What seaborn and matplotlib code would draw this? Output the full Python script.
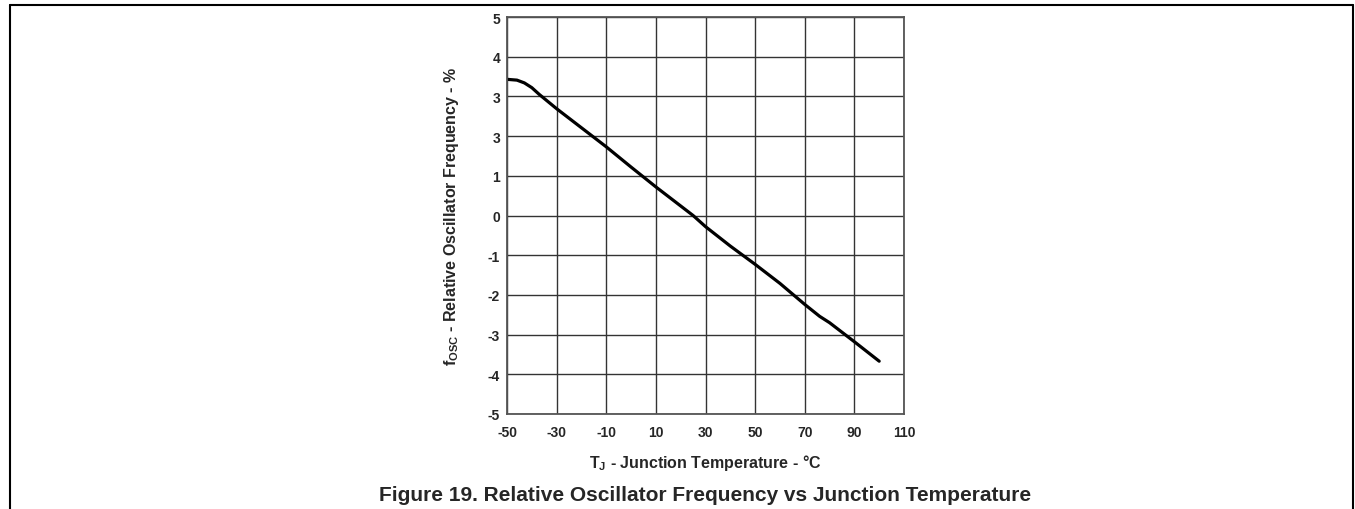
import numpy as np
import pandas as pd
import matplotlib
matplotlib.use('Agg')
import matplotlib.pyplot as plt
from matplotlib.lines import Line2D
import seaborn as sns

# datos
temperatura = [-50, -46, -43, -40, -37, -30, -20, -10, 0, 10, 20, 25, 30, 40, 50, 60, 70, 76, 80, 90, 100]
frecuencia = [3.43, 3.41, 3.34, 3.22, 3.05, 2.69, 2.21, 1.73, 1.22, 0.72, 0.24, 0.0, -0.28, -0.77, -1.23,
              -1.71, -2.24, -2.54, -2.70, -3.18, -3.67]

xticks = [-50, -30, -10, 10, 30, 50, 70, 90, 110]
yticks = [5, 4, 3, 2, 1, 0, -1, -2, -3, -4, -5]
yticklabels = ['5', '4', '3', '3', '1', '0', '-1', '-2', '-3', '-4', '-5']

sns.set_style('white')
plt.rcParams['font.family'] = ['Liberation Sans', 'DejaVu Sans']
plt.rcParams['font.weight'] = 'bold'
plt.rcParams['mathtext.fontset'] = 'custom'
plt.rcParams['mathtext.rm'] = 'Liberation Sans:bold'
plt.rcParams['mathtext.bf'] = 'Liberation Sans:bold'
plt.rcParams['mathtext.it'] = 'Liberation Sans:bold'

df = pd.DataFrame({'T': temperatura, 'f': frecuencia})

fig = plt.figure(figsize=(13.55, 5.10), dpi=100)
ax = fig.add_axes([507/1355, 1 - 415/510, 397/1355, 397/510])

sns.lineplot(data=df, x='T', y='f', color='black', lw=2.3, ax=ax)

ax.set_xlim(-50, 110)
ax.set_ylim(-5, 5)
ax.set_xticks(xticks)
ax.set_xticklabels([str(t) for t in xticks], fontsize=10, fontweight='bold')
ax.set_yticks(yticks)
ax.set_yticklabels(yticklabels, fontsize=10, fontweight='bold')
ax.tick_params(axis='x', length=0, pad=8)
ax.tick_params(axis='y', length=0, pad=5)
ax.grid(True, color='#333333', lw=1.0)
for s in ax.spines.values():
    s.set_color('#555555')
    s.set_linewidth(1.3)

ax.set_xlabel(r'T$_{\mathbf{J}}$ - Junction Temperature - °C', fontsize=11.5, fontweight='bold')
ax.set_ylabel(r'f$_{\mathbf{OSC}}$ - Relative Oscillator Frequency - %', fontsize=11.5, fontweight='bold')
ax.xaxis.set_label_coords(0.5, -0.121)
ax.xaxis.label.set_va('center')
ax.yaxis.set_label_coords(-0.14, 0.5)
ax.yaxis.label.set_va('center')

fig.text(705/1355, 1 - 496/510, 'Figure 19. Relative Oscillator Frequency vs Junction Temperature',
         ha='center', va='center', fontsize=15, fontweight='bold')

# marco exterior
fig.add_artist(Line2D([10/1355, 1353/1355], [1-6/510, 1-6/510], color='black', lw=1.5))
fig.add_artist(Line2D([10/1355, 10/1355], [0, 1-6/510], color='black', lw=1.5))
fig.add_artist(Line2D([1353/1355, 1353/1355], [0, 1-6/510], color='black', lw=1.5))

fig.savefig('out.png', dpi=100)
